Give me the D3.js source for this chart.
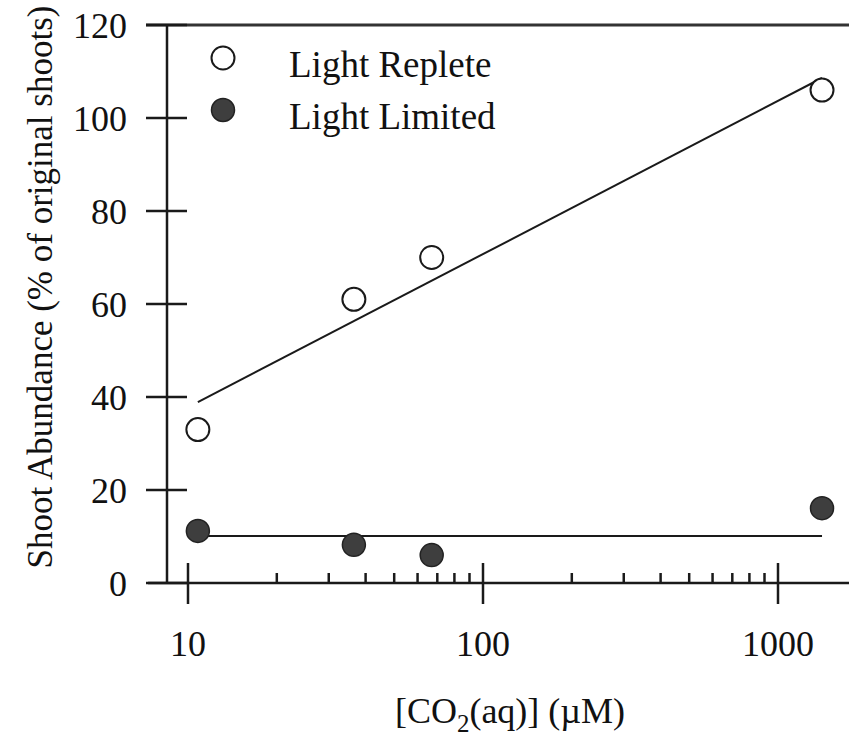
<!DOCTYPE html>
<html>
<head>
<meta charset="utf-8">
<script src="https://cdn.jsdelivr.net/npm/d3@7"></script>
<style>
  body { margin: 0; background: #fff; }
  text { font-family: "Liberation Serif", "Times New Roman", serif; fill: #111; }
</style>
</head>
<body>
<div id="chart"></div>
<script>
// data
const co2 = [10.8, 36.5, 67, 1410];
const lightReplete = [33, 61, 70, 106];
const lightLimited = [11.2, 8.2, 6.0, 16.1];

// fitted lines (end points)
const fitX = [10.8, 1410];
const repleteFit = [38.9, 108.6];
const limitedFit = [10.1, 10.1];

const yTicks = [0, 20, 40, 60, 80, 100, 120];
const xMajor = [10, 100, 1000];
const xMinor = [20, 30, 40, 50, 60, 70, 80, 90, 200, 300, 400, 500, 600, 700, 800, 900];

const width = 849, height = 739;
const axisX = 167, axisY = 583, topY = 25;

const svg = d3.select("#chart")
  .append("svg")
  .attr("width", width)
  .attr("height", height);

const x = d3.scaleLog()
  .domain([10, 1000])
  .range([188, 778]);

const y = d3.scaleLinear()
  .domain([0, 120])
  .range([axisY, topY]);

const ink = "#1a1a1a";

// frame lines
svg.append("line")
  .attr("x1", 146).attr("x2", width)
  .attr("y1", topY).attr("y2", topY)
  .attr("stroke", "#333").attr("stroke-width", 3);

svg.append("line")
  .attr("x1", 148).attr("x2", width)
  .attr("y1", axisY).attr("y2", axisY)
  .attr("stroke", ink).attr("stroke-width", 2.5);

svg.append("line")
  .attr("x1", axisX).attr("x2", axisX)
  .attr("y1", topY).attr("y2", axisY)
  .attr("stroke", ink).attr("stroke-width", 2.5);

// y ticks cross the axis
svg.selectAll(".ytick")
  .data(yTicks)
  .enter()
  .append("line")
  .attr("class", "ytick")
  .attr("x1", axisX - 21).attr("x2", axisX + 20)
  .attr("y1", d => y(d)).attr("y2", d => y(d))
  .attr("stroke", ink).attr("stroke-width", 2.5);

svg.selectAll(".ylab")
  .data(yTicks)
  .enter()
  .append("text")
  .attr("class", "ylab")
  .attr("x", 127)
  .attr("y", d => y(d))
  .attr("dy", "0.35em")
  .attr("text-anchor", "end")
  .style("font-size", "36px")
  .text(d => d);

// x ticks
svg.selectAll(".xmaj")
  .data(xMajor)
  .enter()
  .append("line")
  .attr("class", "xmaj")
  .attr("x1", d => x(d)).attr("x2", d => x(d))
  .attr("y1", axisY - 20).attr("y2", axisY + 21)
  .attr("stroke", ink).attr("stroke-width", 2.5);

svg.selectAll(".xmin")
  .data(xMinor)
  .enter()
  .append("line")
  .attr("class", "xmin")
  .attr("x1", d => x(d)).attr("x2", d => x(d))
  .attr("y1", axisY - 10).attr("y2", axisY)
  .attr("stroke", ink).attr("stroke-width", 2.5);

svg.selectAll(".xlab")
  .data(xMajor)
  .enter()
  .append("text")
  .attr("class", "xlab")
  .attr("x", d => x(d))
  .attr("y", 656)
  .attr("text-anchor", "middle")
  .style("font-size", "36px")
  .text(d => d);

// axis titles
const xTitle = svg.append("text")
  .attr("x", 510)
  .attr("y", 723)
  .attr("text-anchor", "middle")
  .style("font-size", "36px");
xTitle.append("tspan").text("[CO");
xTitle.append("tspan").attr("dy", 9).style("font-size", "25px").text("2");
xTitle.append("tspan").attr("dy", -9).text("(aq)] (\u00b5M)");

svg.append("text")
  .attr("transform", `translate(52, 287) rotate(-90)`)
  .attr("text-anchor", "middle")
  .style("font-size", "35px")
  .text("Shoot Abundance (% of original shoots)");

// fitted lines
const line = d3.line()
  .x(d => x(d[0]))
  .y(d => y(d[1]));

svg.append("path")
  .datum(d3.zip(fitX, repleteFit))
  .attr("d", line)
  .attr("fill", "none")
  .attr("stroke", ink)
  .attr("stroke-width", 2);

svg.append("path")
  .datum(d3.zip(fitX, limitedFit))
  .attr("d", line)
  .attr("fill", "none")
  .attr("stroke", ink)
  .attr("stroke-width", 2);

// points
svg.selectAll(".replete")
  .data(d3.zip(co2, lightReplete))
  .enter()
  .append("circle")
  .attr("class", "replete")
  .attr("cx", d => x(d[0]))
  .attr("cy", d => y(d[1]))
  .attr("r", 11.5)
  .attr("fill", "#fff")
  .attr("stroke", ink)
  .attr("stroke-width", 2);

svg.selectAll(".limited")
  .data(d3.zip(co2, lightLimited))
  .enter()
  .append("circle")
  .attr("class", "limited")
  .attr("cx", d => x(d[0]))
  .attr("cy", d => y(d[1]))
  .attr("r", 11.5)
  .attr("fill", "#3e3e3e")
  .attr("stroke", "#222")
  .attr("stroke-width", 1.5);

// legend
const legend = svg.append("g");
const legendItems = [
  {label: "Light Replete", fill: "#fff", sw: 2},
  {label: "Light Limited", fill: "#3e3e3e", sw: 1.5}
];
legendItems.forEach((item, i) => {
  const ly = 58 + i * 52;
  legend.append("circle")
    .attr("cx", 223).attr("cy", ly)
    .attr("r", 11.5)
    .attr("fill", item.fill)
    .attr("stroke", i ? "#222" : ink)
    .attr("stroke-width", item.sw);
  legend.append("text")
    .attr("x", 289).attr("y", ly + 19)
    .style("font-size", "37px")
    .text(item.label);
});
</script>
</body>
</html>
